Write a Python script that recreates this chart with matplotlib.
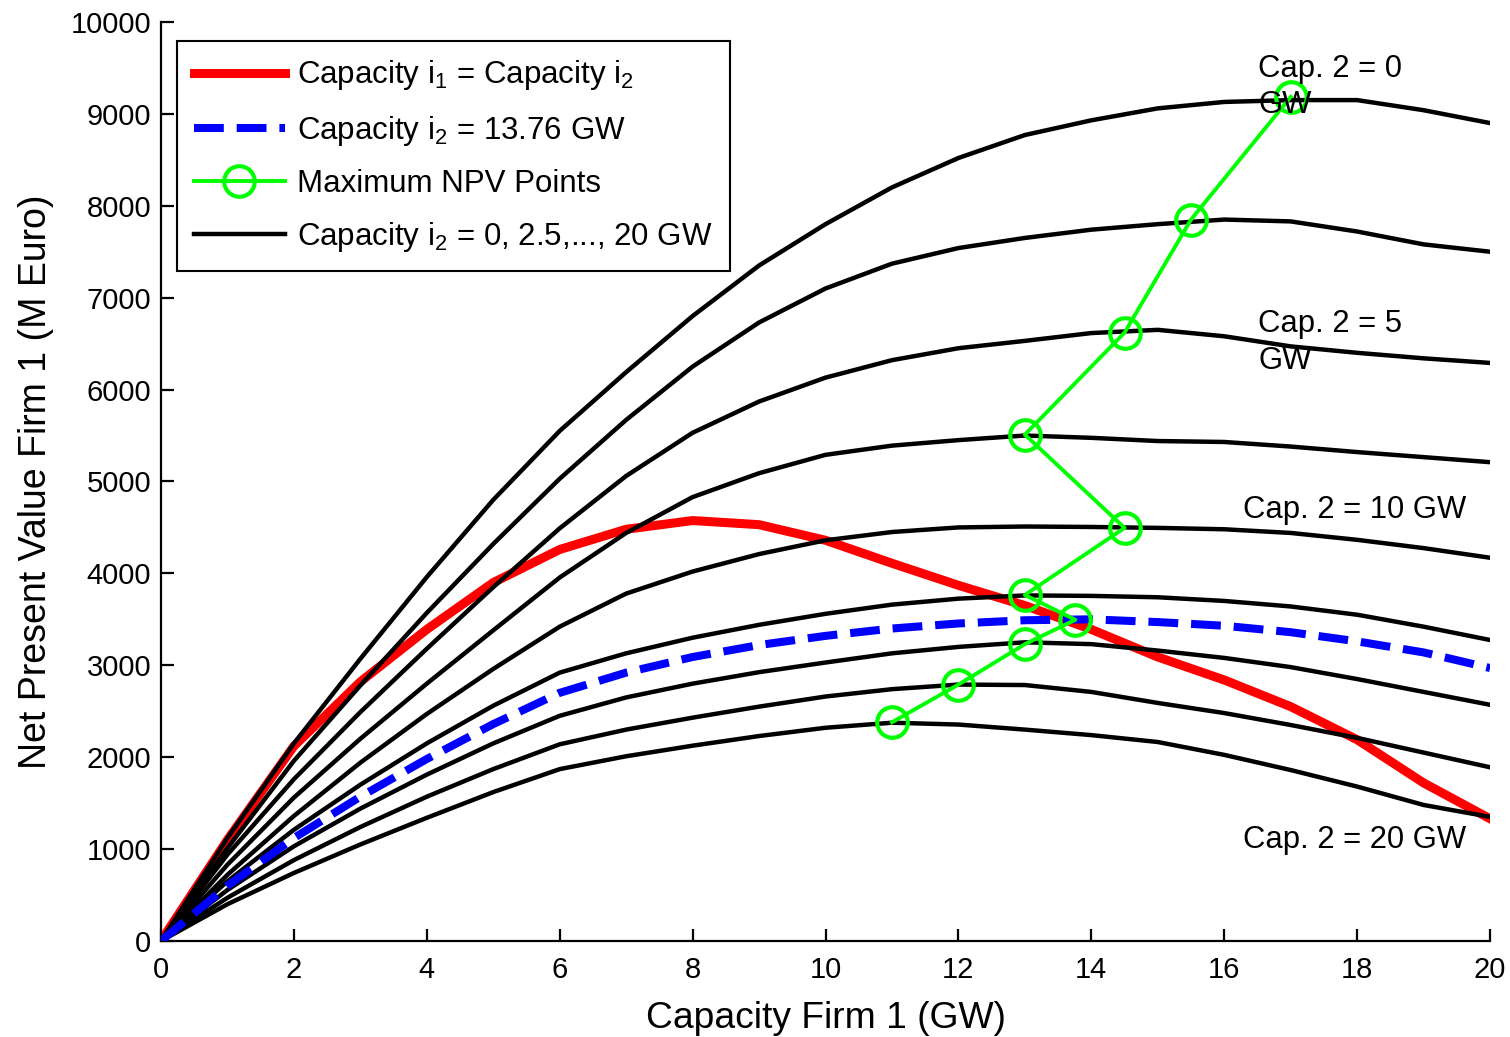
import matplotlib
matplotlib.use("Agg")
import matplotlib.pyplot as plt

# 字体：参考图是 MATLAB 的 Arial 风格，用 Liberation Sans 代替
plt.rcParams['font.family'] = ['Liberation Sans', 'DejaVu Sans']
plt.rcParams['mathtext.fontset'] = 'custom'
plt.rcParams['mathtext.rm'] = 'Liberation Sans'
plt.rcParams['mathtext.it'] = 'Liberation Sans'

# ============================================================
# 数据
# ============================================================
cap1 = [0, 1, 2, 3, 4, 5, 6, 7, 8, 9, 10, 11, 12, 13, 14, 15, 16, 17, 18, 19, 20]

# 黑线：Firm 2 容量 = 0, 2.5, ..., 20 GW
npv_cap2_0 = [0, 1120, 2150, 3070, 3960, 4800, 5550, 6190, 6800, 7350, 7800,
              8200, 8520, 8770, 8930, 9060, 9130, 9150, 9150, 9040, 8900]
npv_cap2_2_5 = [0, 1010, 1960, 2780, 3570, 4320, 5030, 5670, 6250, 6730, 7100,
                7370, 7540, 7650, 7740, 7800, 7850, 7830, 7720, 7580, 7500]
npv_cap2_5 = [0, 940, 1760, 2490, 3180, 3850, 4490, 5060, 5530, 5870, 6130,
              6320, 6450, 6530, 6615, 6650, 6580, 6470, 6400, 6340, 6290]
npv_cap2_7_5 = [0, 830, 1560, 2200, 2800, 3380, 3955, 4440, 4830, 5090, 5290,
                5390, 5450, 5500, 5475, 5440, 5430, 5380, 5320, 5265, 5210]
npv_cap2_10 = [0, 720, 1360, 1940, 2470, 2960, 3420, 3780, 4020, 4210, 4360,
               4450, 4500, 4510, 4505, 4495, 4480, 4440, 4365, 4275, 4170]
npv_cap2_12_5 = [0, 650, 1210, 1700, 2150, 2560, 2920, 3130, 3300, 3440, 3560,
                 3660, 3725, 3760, 3755, 3740, 3700, 3640, 3550, 3420, 3275]
npv_cap2_15 = [0, 555, 1030, 1440, 1810, 2150, 2450, 2650, 2800, 2925, 3030,
               3130, 3200, 3250, 3230, 3160, 3080, 2980, 2850, 2710, 2570]
npv_cap2_17_5 = [0, 470, 880, 1240, 1570, 1870, 2140, 2300, 2430, 2550, 2660,
                 2740, 2790, 2785, 2710, 2590, 2480, 2350, 2210, 2050, 1890]
npv_cap2_20 = [0, 400, 740, 1050, 1340, 1620, 1870, 2010, 2125, 2230, 2320,
               2375, 2355, 2300, 2240, 2165, 2025, 1860, 1680, 1480, 1350]
black_curves = [npv_cap2_0, npv_cap2_2_5, npv_cap2_5, npv_cap2_7_5, npv_cap2_10,
                npv_cap2_12_5, npv_cap2_15, npv_cap2_17_5, npv_cap2_20]

# 红线：两家容量相同
npv_equal = [0, 1100, 2120, 2820, 3390, 3900, 4260, 4480, 4575, 4530, 4360,
             4110, 3870, 3650, 3390, 3090, 2840, 2550, 2190, 1720, 1330]

# 蓝色虚线：Firm 2 容量 = 13.76 GW
npv_cap2_13_76 = [0, 600, 1120, 1570, 1980, 2360, 2700, 2920, 3090, 3220, 3320,
                  3400, 3455, 3490, 3500, 3470, 3430, 3360, 3260, 3140, 2970]

# 绿色：各曲线的最大 NPV 点
max_x = [11, 12, 13, 13.76, 13, 14.5, 13, 14.5, 15.5, 17]
max_y = [2380, 2790, 3230, 3495, 3765, 4495, 5510, 6620, 7850, 9185]

# 曲线标注
label_texts = ["Cap. 2 = 0\nGW", "Cap. 2 = 5\nGW", "Cap. 2 = 10 GW", "Cap. 2 = 20 GW"]
label_x = [16.51, 16.51, 16.28, 16.28]
label_y = [9290, 6510, 4690, 1100]

# ============================================================
# 绘图
# ============================================================
fig = plt.figure(figsize=(15.1, 10.37), dpi=100)
ax = fig.add_axes([0.1066, 0.0926, 0.8802, 0.8862])

red_line, = ax.plot(cap1, npv_equal, color="red", linewidth=6.5, zorder=2)
black_lines = []
for npv in black_curves:
    ln, = ax.plot(cap1, npv, color="black", linewidth=3.2, zorder=3)
    black_lines.append(ln)
blue_line, = ax.plot(cap1, npv_cap2_13_76, color="blue", linewidth=5.8,
                     dashes=[3.7, 1.6], zorder=4)
green_line, = ax.plot(max_x, max_y, color="#00ff00", linewidth=2.8, marker="o",
                      markersize=22, markerfacecolor="none", markeredgewidth=3,
                      zorder=5)

for txt, tx, ty in zip(label_texts, label_x, label_y):
    ax.text(tx, ty, txt, fontsize=22.3, ha="left", va="center",
            linespacing=1.28, zorder=6)

ax.set_xlim(0, 20)
ax.set_ylim(0, 10000)
ax.set_xticks(range(0, 21, 2))
ax.set_yticks(range(0, 10001, 1000))
ax.tick_params(direction="in", length=9, width=1.6, labelsize=21)
ax.tick_params(axis="x", pad=11)
ax.tick_params(axis="y", pad=7)
for side in ["top", "right"]:
    ax.spines[side].set_visible(False)
for side in ["left", "bottom"]:
    ax.spines[side].set_linewidth(1.6)

ax.set_xlabel("Capacity Firm 1 (GW)", fontsize=26.8, labelpad=12)
ax.set_ylabel("Net Present Value Firm 1 (M Euro)", fontsize=27, labelpad=12)

leg = ax.legend([red_line, blue_line, green_line, black_lines[0]],
                [r"Capacity i$_1$ = Capacity i$_2$",
                 r"Capacity i$_2$ = 13.76 GW",
                 "Maximum NPV Points",
                 r"Capacity i$_2$ = 0, 2.5,..., 20 GW"],
                loc="upper left", bbox_to_anchor=(0.012, 0.979),
                borderaxespad=0, fontsize=22.5, fancybox=False,
                edgecolor="black", framealpha=1, handlelength=2.9,
                handletextpad=0.4, labelspacing=0.68, borderpad=0.55)
leg.get_frame().set_linewidth(1.5)

fig.savefig("out.png", dpi=100)
